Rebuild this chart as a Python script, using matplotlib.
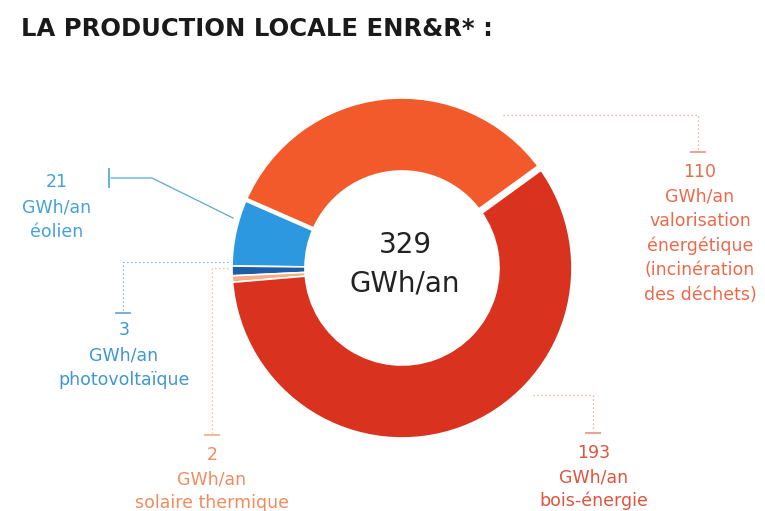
import numpy as np
import matplotlib.pyplot as plt

W, H = 765, 511

# production locale ENR&R, GWh/an
categories = ["valorisation énergétique", "éolien", "photovoltaïque",
              "solaire thermique", "bois-énergie"]
values = [110, 21, 3, 2, 193]
total_label = "329"
unit = "GWh/an"
descriptions = [
    ["valorisation", "énergétique", "(incinération", "des déchets)"],
    ["éolien"],
    ["photovoltaïque"],
    ["solaire thermique"],
    ["bois-énergie"],
]

wedge_colors = ["#F35A2B", "#2C98DF", "#1E5CA6", "#F6AE86", "#D9321F"]
text_colors = ["#EC6A4C", "#45A2DA", "#3F97D3", "#F08C5E", "#E0533D"]
line_colors = ["#E89A88", "#5AAAD8", "#6FA6D2", "#F2B08E", "#E89A88"]

CX, CY = 402, 268          # donut centre (pixels, y down)
R_OUT, R_IN = 170, 97


def px(x, y):
    return x, H - y


fig = plt.figure(figsize=(W / 100, H / 100), dpi=100)
ax = fig.add_axes([0, 0, 1, 1])

wedges, _ = ax.pie(values, colors=wedge_colors, startangle=36, counterclock=True,
                   radius=R_OUT, center=px(CX, CY),
                   wedgeprops=dict(width=R_OUT - R_IN, edgecolor="white", linewidth=1.2))

# wider white gaps on both sides of the top wedge
for ang, lw in [(wedges[0].theta1, 5.0), (wedges[0].theta2, 3.2)]:
    t = np.deg2rad(ang)
    r = np.array([R_IN - 5, R_OUT + 5])
    ax.plot(CX + r * np.cos(t), (H - CY) + r * np.sin(t), color="white", lw=lw,
            solid_capstyle="butt", zorder=3)

ax.set_xlim(0, W)
ax.set_ylim(0, H)
ax.set_aspect("equal")
ax.set_axis_off()

ax.text(*px(21, 29), "LA PRODUCTION LOCALE ENR&R* :", fontsize=17.5, fontweight="bold",
        color="#1a1a1a", va="center", ha="left")

ax.text(*px(CX + 3, 245), total_label, fontsize=20, ha="center", va="center", color="#222222")
ax.text(*px(CX + 3, 283), unit, fontsize=20, ha="center", va="center", color="#222222")

# leader lines (pixel paths) and label anchors: (path, dotted, tick, label x, first line y)
leaders = [
    ([(503, 115), (698, 115), (698, 150)], True, "h", 700, 172),
    ([(233, 218), (152, 178), (111, 178)], False, "v", 57, 182),
    ([(228, 262), (123, 262), (123, 311)], True, "h", 124, 330),
    ([(228, 268), (212, 268), (212, 433)], True, "h", 212, 455),
    ([(533, 395), (593, 395), (593, 431)], True, "h", 594, 453),
]
spacing = [24.6, 25, 25, 24, 24]

for i, (path, dotted, tick, lx, ly) in enumerate(leaders):
    xs = [p[0] for p in path]
    ys = [H - p[1] for p in path]
    ax.plot(xs, ys, color=line_colors[i], lw=0.9, ls=(0, (1, 2.2)) if dotted else "-",
            zorder=2)
    ex, ey = path[-1]
    if tick == "h":
        ax.plot([ex - 7, ex + 7], [H - ey - 1.5] * 2, color=line_colors[i], lw=1.3)
    else:
        ax.plot([ex - 2, ex - 2], [H - ey + 9, H - ey - 9], color=line_colors[i], lw=1.3)

    lines = [str(values[i]), unit] + descriptions[i]
    for k, s in enumerate(lines):
        ax.text(*px(lx, ly + k * spacing[i]), s, fontsize=12.5, ha="center", va="center",
                color=text_colors[i])

fig.savefig("out.png", dpi=100)
